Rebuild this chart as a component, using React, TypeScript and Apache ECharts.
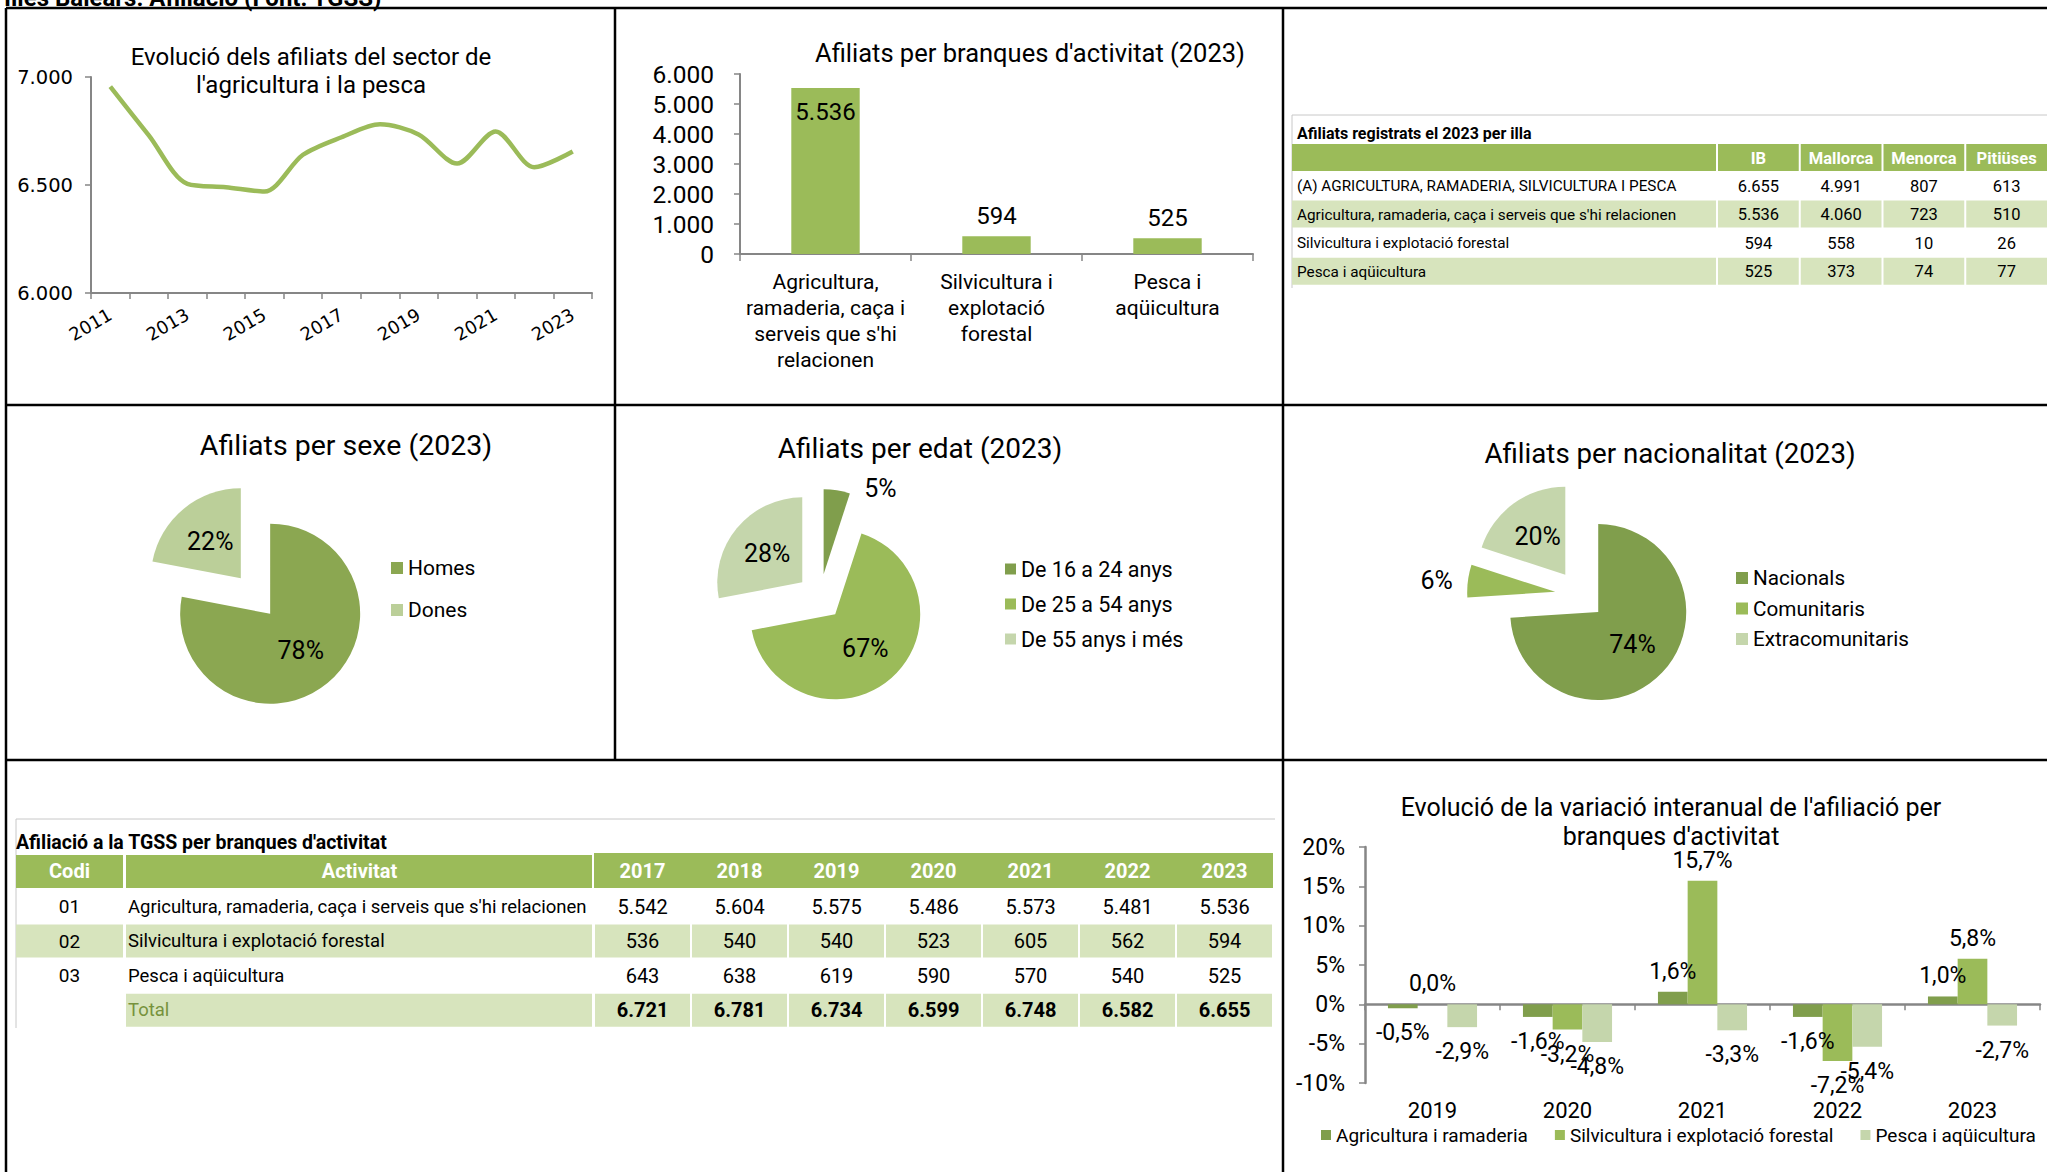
import React, { useEffect, useRef } from 'react';
import * as echarts from 'echarts';

// ---------- colours & fonts ----------
const GREEN = '#9bbb59';
const DARK = '#809e4c';
const LIGHT = '#c5d6ac';
const HOMES = '#8ba751';
const DONES = '#bbcf99';
const ROW_GREEN = '#d7e4bd';
const AXIS = '#868686';
const TOTAL_COLOR = '#76923c';
const FONT = 'Roboto, sans-serif';
const FONT_AXIS = '"DejaVu Sans", sans-serif';

// ---------- data ----------
const pageHeader = 'Illes Balears. Afiliació (Font: TGSS)';

const lineTitle = "Evolució dels afiliats del sector de\nl'agricultura i la pesca";
const lineYears = ['2011', '2012', '2013', '2014', '2015', '2016', '2017', '2018', '2019', '2020', '2021', '2022', '2023'];
const lineValues = [6955, 6730, 6505, 6490, 6470, 6640, 6721, 6781, 6734, 6599, 6748, 6582, 6655];

const branchTitle = "Afiliats per branques d'activitat (2023)";
const branchLabels = ["Agricultura,\nramaderia, caça i\nserveis que s'hi\nrelacionen", 'Silvicultura i\nexplotació\nforestal', 'Pesca i\naqüicultura'];
const branchValues = [5536, 594, 525];

const sexTitle = 'Afiliats per sexe (2023)';
const sexNames = ['Homes', 'Dones'];
const sexValues = [78, 22];

const ageTitle = 'Afiliats per edat (2023)';
const ageNames = ['De 16 a 24 anys', 'De 25 a 54 anys', 'De 55 anys i més'];
const ageValues = [5, 67, 28];

const natTitle = 'Afiliats per nacionalitat (2023)';
const natNames = ['Nacionals', 'Comunitaris', 'Extracomunitaris'];
const natValues = [74, 6, 20];

const varTitle = "Evolució de la variació interanual de l'afiliació per\nbranques d'activitat";
const varYears = ['2019', '2020', '2021', '2022', '2023'];
const varNames = ['Agricultura i ramaderia', 'Silvicultura i explotació forestal', 'Pesca i aqüicultura'];
const varAgri = [-0.5, -1.6, 1.6, -1.6, 1.0];
const varSilv = [0.0, -3.2, 15.7, -7.2, 5.8];
const varPesca = [-2.9, -4.8, -3.3, -5.4, -2.7];

const islandTitle = 'Afiliats registrats el 2023 per illa';
const islandHeaders = ['IB', 'Mallorca', 'Menorca', 'Pitiüses'];
const islandRowLabels = [
  '(A) AGRICULTURA, RAMADERIA, SILVICULTURA I PESCA',
  "Agricultura, ramaderia, caça i serveis que s'hi relacionen",
  'Silvicultura i explotació forestal',
  'Pesca i aqüicultura',
];
const islandValues = [
  [6655, 4991, 807, 613],
  [5536, 4060, 723, 510],
  [594, 558, 10, 26],
  [525, 373, 74, 77],
];

const tgssTitle = "Afiliació a la TGSS per branques d'activitat";
const tgssHeadCodi = 'Codi';
const tgssHeadAct = 'Activitat';
const tgssYears = ['2017', '2018', '2019', '2020', '2021', '2022', '2023'];
const tgssCodes = ['01', '02', '03', ''];
const tgssActivities = ["Agricultura, ramaderia, caça i serveis que s'hi relacionen", 'Silvicultura i explotació forestal', 'Pesca i aqüicultura', 'Total'];
const tgssAgri = [5542, 5604, 5575, 5486, 5573, 5481, 5536];
const tgssSilv = [536, 540, 540, 523, 605, 562, 594];
const tgssPesca = [643, 638, 619, 590, 570, 540, 525];
const tgssTotal = [6721, 6781, 6734, 6599, 6748, 6582, 6655];

// ---------- helpers ----------
const fmtK = (n: number) => {
  const s = Math.round(n).toString();
  return s.length > 3 ? s.slice(0, -3) + '.' + s.slice(-3) : s;
};
const fmtPct = (v: number) => v.toFixed(1).replace('.', ',') + '%';

const txt = (x: number, y: number, text: string, size: number, extra: any = {}) => ({
  type: 'text',
  x,
  y,
  silent: true,
  style: { text, fontSize: size, fontFamily: FONT, fill: '#000', align: 'left', verticalAlign: 'middle', ...extra },
});
const rect = (x: number, y: number, w: number, h: number, fill: string) => ({
  type: 'rect',
  silent: true,
  shape: { x, y, width: w, height: h },
  style: { fill },
});
const seg = (x1: number, y1: number, x2: number, y2: number, stroke: string, lw: number) => ({
  type: 'line',
  silent: true,
  shape: { x1, y1, x2, y2 },
  style: { stroke, lineWidth: lw },
});

function buildGraphics() {
  const g: any[] = [];
  // panel borders
  const B = '#000';
  g.push(seg(6, 8, 2047, 8, B, 2.5));
  g.push(seg(6, 405, 2047, 405, B, 2.5));
  g.push(seg(6, 760, 2047, 760, B, 2.5));
  g.push(seg(6, 8, 6, 1172, B, 2.5));
  g.push(seg(615, 8, 615, 760, B, 2.5));
  g.push(seg(1283, 8, 1283, 1172, B, 2.5));
  g.push(txt(4, 10, pageHeader, 24, { fontWeight: 'bold', verticalAlign: 'bottom' }));

  // chart titles
  g.push(txt(311, 71, lineTitle, 24, { align: 'center', lineHeight: 28 }));
  g.push(txt(1030, 53, branchTitle, 25.5, { align: 'center' }));
  g.push(txt(346, 445, sexTitle, 28.5, { align: 'center' }));
  g.push(txt(920, 448, ageTitle, 28, { align: 'center' }));
  g.push(txt(1670, 453, natTitle, 27.7, { align: 'center' }));
  g.push(txt(1671, 822, varTitle, 25, { align: 'center', lineHeight: 29 }));

  // ---- table 1 (per illa) ----
  const t1L = 1292, t1Split = 1717, t1ColW = 82.75;
  g.push(seg(t1L, 115, 2047, 115, '#c8c8c8', 1));
  g.push(seg(t1L, 115, t1L, 288, '#c8c8c8', 1));
  g.push(txt(1297, 133, islandTitle, 16, { fontWeight: 'bold' }));
  g.push(rect(t1L, 144, t1Split - t1L - 1, 27, GREEN));
  islandHeaders.forEach((h, j) => {
    const x0 = t1Split + j * t1ColW;
    g.push(rect(x0 + 1, 144, t1ColW - 2, 27, GREEN));
    g.push(txt(x0 + t1ColW / 2, 158, h, 16.5, { align: 'center', fill: '#fff', fontWeight: 'bold' }));
  });
  islandRowLabels.forEach((lab, i) => {
    const y = 172 + i * 28.6;
    if (i % 2 === 1) {
      g.push(rect(t1L, y, t1Split - t1L - 1, 27, ROW_GREEN));
      islandHeaders.forEach((_, j) => g.push(rect(t1Split + j * t1ColW + 1, y, t1ColW - 2, 27, ROW_GREEN)));
    }
    g.push(txt(1297, y + 14, lab, 15.3));
    islandValues[i].forEach((v, j) => {
      g.push(txt(t1Split + j * t1ColW + t1ColW / 2, y + 14, fmtK(v), 16.5, { align: 'center' }));
    });
  });

  // ---- table 2 (TGSS) ----
  const t2L = 16, codiR = 123, actL = 125, yrL = 594, yrW = 97;
  g.push(seg(t2L, 819, 1275, 819, '#c8c8c8', 1));
  g.push(seg(t2L, 819, t2L, 1028, '#c8c8c8', 1));
  g.push(txt(16, 842, tgssTitle, 19.5, { fontWeight: 'bold' }));
  g.push(rect(t2L, 855, codiR - t2L, 33, GREEN));
  g.push(rect(actL + 1, 855, yrL - actL - 3, 33, GREEN));
  g.push(rect(yrL, 853, yrW * tgssYears.length, 35, GREEN));
  g.push(txt((t2L + codiR) / 2, 871, tgssHeadCodi, 20, { align: 'center', fill: '#fff', fontWeight: 'bold' }));
  g.push(txt((actL + yrL) / 2, 871, tgssHeadAct, 20, { align: 'center', fill: '#fff', fontWeight: 'bold' }));
  tgssYears.forEach((yr, j) => {
    g.push(txt(yrL + j * yrW + yrW / 2, 871, yr, 20, { align: 'center', fill: '#fff', fontWeight: 'bold' }));
  });
  const tgssRows = [tgssAgri, tgssSilv, tgssPesca, tgssTotal];
  tgssRows.forEach((vals, i) => {
    const y = 890 + i * 34.6;
    const isTotal = i === 3;
    if (i % 2 === 1) {
      if (!isTotal) g.push(rect(t2L, y, codiR - t2L, 33, ROW_GREEN));
      g.push(rect(actL + 1, y, yrL - actL - 3, 33, ROW_GREEN));
      vals.forEach((_, j) => g.push(rect(yrL + j * yrW + 1, y, yrW - 2, 33, ROW_GREEN)));
    }
    if (tgssCodes[i]) g.push(txt((t2L + codiR) / 2, y + 16.5, tgssCodes[i], 19, { align: 'center' }));
    g.push(txt(128, y + 16.5, tgssActivities[i], 18.5, isTotal ? { fill: TOTAL_COLOR } : {}));
    vals.forEach((v, j) => {
      g.push(txt(yrL + j * yrW + yrW / 2, y + 16.5, fmtK(v), 20, { align: 'center', fontWeight: isTotal ? 'bold' : 'normal' }));
    });
  });
  return g;
}

function pieSeries(
  names: string[],
  values: number[],
  colors: string[],
  center: number[],
  radius: number,
  offset: number,
  outsideIdx: number,
  len2: number
) {
  return {
    type: 'pie',
    center,
    radius,
    startAngle: 90,
    clockwise: true,
    selectedMode: 'multiple',
    selectedOffset: offset,
    avoidLabelOverlap: false,
    emphasis: { disabled: true },
    label: { show: true, position: 'inside', formatter: '{c}%', color: '#000', fontSize: 25, fontFamily: FONT },
    labelLine: { show: false },
    itemStyle: { borderWidth: 0 },
    data: names.map((n, i) => {
      const item: any = { name: n, value: values[i], selected: true, itemStyle: { color: colors[i] } };
      if (i === outsideIdx) {
        item.label = { position: 'outside' };
        item.labelLine = { show: false, length: 2, length2: len2 };
      }
      return item;
    }),
  };
}

function varBar(name: string, values: number[], color: string) {
  return {
    type: 'bar',
    name,
    xAxisIndex: 2,
    yAxisIndex: 2,
    barGap: '0%',
    barCategoryGap: '34%',
    itemStyle: { color },
    data: values.map((v) => ({
      value: v,
      label: { position: v < 0 ? 'bottom' : 'top', distance: v < 0 ? 13 : 9 },
    })),
    label: {
      show: true,
      formatter: (p: any) => fmtPct(p.value),
      color: '#000',
      fontSize: 23,
      fontFamily: FONT,
    },
  };
}

function buildOption(): any {
  const legendText = (size: number) => ({ fontSize: size, fontFamily: FONT, color: '#000', lineHeight: 22 });
  return {
    animation: false,
    backgroundColor: '#fff',
    graphic: { elements: buildGraphics() },
    grid: [
      { left: 91, top: 77, width: 501, height: 216, outerBoundsMode: 'none' },
      { left: 740, top: 74, width: 513, height: 180, outerBoundsMode: 'none' },
      { left: 1365, top: 847, width: 675, height: 236, outerBoundsMode: 'none' },
    ],
    legend: [
      {
        data: sexNames, orient: 'vertical', left: 391, top: 557, padding: 0, itemGap: 20,
        itemWidth: 12, itemHeight: 12, icon: 'rect', selectedMode: false, textStyle: legendText(21),
      },
      {
        data: ageNames, orient: 'vertical', left: 1005, top: 558, padding: 0, itemGap: 13,
        itemWidth: 11, itemHeight: 11, icon: 'rect', selectedMode: false, textStyle: legendText(21.5),
      },
      {
        data: natNames, orient: 'vertical', left: 1736, top: 567, padding: 0, itemGap: 8.5,
        itemWidth: 12, itemHeight: 12, icon: 'rect', selectedMode: false, textStyle: legendText(20.7),
      },
      {
        data: varNames, orient: 'horizontal', left: 1321, top: 1124, padding: 0, itemGap: 27,
        itemWidth: 10, itemHeight: 10, icon: 'rect', selectedMode: false, textStyle: legendText(19),
      },
    ],
    xAxis: [
      {
        gridIndex: 0, type: 'category', data: lineYears, boundaryGap: true,
        axisLine: { lineStyle: { color: AXIS, width: 2 } },
        axisTick: { show: true, interval: 0, length: 6, lineStyle: { color: AXIS, width: 1.5 } },
        axisLabel: { interval: 1, rotate: 30, margin: 20, fontSize: 18, fontFamily: FONT_AXIS, color: '#000' },
        splitLine: { show: false },
      },
      {
        gridIndex: 1, type: 'category', data: branchLabels,
        axisLine: { lineStyle: { color: AXIS, width: 2 } },
        axisTick: { show: true, length: 7, lineStyle: { color: AXIS, width: 1.5 } },
        axisLabel: { interval: 0, margin: 15, fontSize: 21, lineHeight: 26, fontFamily: FONT, color: '#000', hideOverlap: false },
        splitLine: { show: false },
      },
      {
        gridIndex: 2, type: 'category', data: varYears,
        axisLine: { onZero: true, lineStyle: { color: AXIS, width: 2.5 } },
        axisTick: { show: true, length: 6, lineStyle: { color: AXIS, width: 1.5 } },
        axisLabel: { show: false },
        splitLine: { show: false },
      },
      {
        gridIndex: 2, type: 'category', data: varYears, position: 'bottom',
        axisLine: { show: false, onZero: false },
        axisTick: { show: false },
        axisLabel: { margin: 16, fontSize: 22, fontFamily: FONT, color: '#000' },
        splitLine: { show: false },
      },
    ],
    yAxis: [
      {
        gridIndex: 0, type: 'value', min: 6000, max: 7000, interval: 500,
        axisLine: { show: true, lineStyle: { color: AXIS, width: 2 } },
        axisTick: { show: true, length: 6, lineStyle: { color: AXIS, width: 1.5 } },
        axisLabel: { formatter: (v: number) => fmtK(v), margin: 18, fontSize: 19.5, fontFamily: FONT_AXIS, color: '#000' },
        splitLine: { show: false },
      },
      {
        gridIndex: 1, type: 'value', min: 0, max: 6000, interval: 1000,
        axisLine: { show: true, lineStyle: { color: AXIS, width: 2 } },
        axisTick: { show: true, length: 6, lineStyle: { color: AXIS, width: 1.5 } },
        axisLabel: { formatter: (v: number) => fmtK(v), margin: 26, fontSize: 24.5, fontFamily: FONT, color: '#000' },
        splitLine: { show: false },
      },
      {
        gridIndex: 2, type: 'value', min: -10, max: 20, interval: 5,
        axisLine: { show: true, lineStyle: { color: AXIS, width: 2.5 } },
        axisTick: { show: true, length: 6, lineStyle: { color: AXIS, width: 1.5 } },
        axisLabel: { formatter: '{value}%', margin: 20, fontSize: 23, fontFamily: FONT, color: '#000' },
        splitLine: { show: false },
      },
    ],
    series: [
      {
        type: 'line', xAxisIndex: 0, yAxisIndex: 0, data: lineValues, smooth: 0.3,
        showSymbol: false, symbol: 'none', lineStyle: { color: GREEN, width: 4.5 }, itemStyle: { color: GREEN },
      },
      {
        type: 'bar', xAxisIndex: 1, yAxisIndex: 1, barWidth: '40%', itemStyle: { color: GREEN },
        data: branchValues.map((v, i) => ({
          value: v,
          label: i === 0 ? { position: 'insideTop', distance: 12 } : { position: 'top', distance: 8 },
        })),
        label: { show: true, formatter: (p: any) => fmtK(p.value), color: '#000', fontSize: 24, fontFamily: FONT },
      },
      varBar(varNames[0], varAgri, DARK),
      varBar(varNames[1], varSilv, GREEN),
      varBar(varNames[2], varPesca, LIGHT),
      pieSeries(sexNames, sexValues, [HOMES, DONES], [255.5, 596], 90, 23, -1, 0),
      pieSeries(ageNames, ageValues, [DARK, GREEN, LIGHT], [820, 597], 85, 23, 0, 22),
      pieSeries(natNames, natValues, [DARK, GREEN, LIGHT], [1580, 595], 88, 25, 1, 8),
    ],
  };
}

export default function App() {
  const ref = useRef<HTMLDivElement>(null);
  useEffect(() => {
    if (!ref.current) return;
    const chart = echarts.init(ref.current, null, { renderer: 'svg' });
    chart.setOption(buildOption());
    return () => chart.dispose();
  }, []);
  return (
    <div
      ref={ref}
      style={{ position: 'fixed', left: 0, top: 0, width: 2047, height: 1172, background: '#fff' }}
    />
  );
}
